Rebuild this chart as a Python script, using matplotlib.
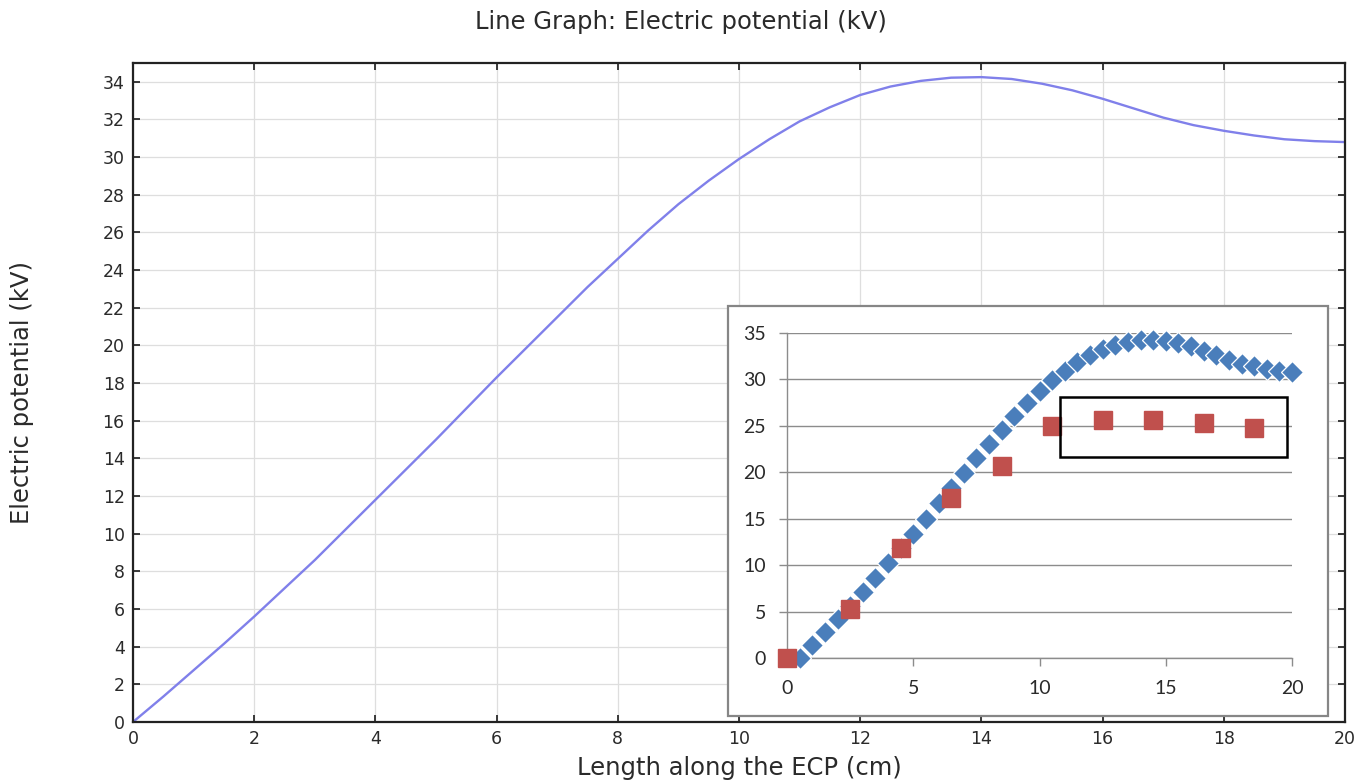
import numpy as np
import matplotlib
matplotlib.use("Agg")
import matplotlib.pyplot as plt
from matplotlib.patches import Rectangle

# main curve: electric potential along the ECP (read every 0.5 cm)
length_cm = [0.0, 0.5, 1.0, 1.5, 2.0, 2.5, 3.0, 3.5, 4.0, 4.5, 5.0, 5.5, 6.0, 6.5,
             7.0, 7.5, 8.0, 8.5, 9.0, 9.5, 10.0, 10.5, 11.0, 11.5, 12.0, 12.5,
             13.0, 13.5, 14.0, 14.5, 15.0, 15.5, 16.0, 16.5, 17.0, 17.5, 18.0,
             18.5, 19.0, 19.5, 20.0]
potential_kv = [0.0, 1.35, 2.75, 4.15, 5.6, 7.1, 8.6, 10.2, 11.8, 13.4, 15.0,
                16.65, 18.3, 19.9, 21.5, 23.1, 24.6, 26.1, 27.5, 28.75, 29.9,
                30.95, 31.9, 32.65, 33.3, 33.75, 34.05, 34.22, 34.25, 34.15,
                33.9, 33.55, 33.1, 32.6, 32.1, 31.7, 31.4, 31.15, 30.95, 30.85,
                30.8]

# inset: simulated values (diamonds) and measured values (squares)
sim_x = [0.5, 1.0, 1.5, 2.0, 2.5, 3.0, 3.5, 4.0, 4.5, 5.0, 5.5, 6.0, 6.5, 7.0,
         7.5, 8.0, 8.5, 9.0, 9.5, 10.0, 10.5, 11.0, 11.5, 12.0, 12.5, 13.0,
         13.5, 14.0, 14.5, 15.0, 15.5, 16.0, 16.5, 17.0, 17.5, 18.0, 18.5,
         19.0, 19.5, 20.0]
sim_y = [0.0, 1.35, 2.75, 4.15, 5.6, 7.1, 8.6, 10.2, 11.8, 13.4, 15.0, 16.65,
         18.3, 19.9, 21.5, 23.1, 24.6, 26.1, 27.5, 28.75, 29.9, 30.95, 31.9,
         32.65, 33.3, 33.75, 34.05, 34.22, 34.25, 34.15, 33.9, 33.55, 33.1,
         32.6, 32.1, 31.7, 31.4, 31.15, 30.95, 30.8]
meas_x = [0.0, 2.5, 4.5, 6.5, 8.5, 10.5, 12.5, 14.5, 16.5, 18.5]
meas_y = [0.0, 5.3, 11.9, 17.2, 20.7, 25.0, 25.6, 25.6, 25.3, 24.8]

txt = "#2a2a2a"
fig = plt.figure(figsize=(13.61, 7.84), dpi=100)
fig.patch.set_facecolor("white")

ax = fig.add_axes([133 / 1361, 1 - 722 / 784, (1345 - 133) / 1361, (722 - 63) / 784])
ax.plot(length_cm, potential_kv, color="#8080ea", lw=1.7)
ax.set_xlim(0, 20)
ax.set_ylim(0, 35)
ax.set_xticks(np.arange(0, 21, 2))
ax.set_yticks(np.arange(0, 35, 2))
ax.grid(True, color="#dedede", lw=0.9)
ax.tick_params(direction="in", top=True, right=True, length=5, width=1.3,
               labelsize=12.5, colors=txt, pad=6)
for s in ax.spines.values():
    s.set_linewidth(1.6)
    s.set_color("#222222")
fig.suptitle("Line Graph: Electric potential (kV)", x=0.5, y=1 - 22 / 784,
             va="center", fontsize=17.5, color=txt)
ax.set_xlabel("Length along the ECP (cm)", fontsize=17.5, color=txt)
ax.set_ylabel("Electric potential (kV)", fontsize=17.5, color=txt)
ax.xaxis.set_label_coords(0.5, -0.052)
ax.yaxis.set_label_coords(-0.082, 0.5)

# inset frame
fig.patches.append(Rectangle((728 / 1361, 1 - 716 / 784), 600 / 1361, 410 / 784,
                             transform=fig.transFigure, facecolor="white",
                             edgecolor="#868686", lw=1.6, zorder=5))

ins = fig.add_axes([787 / 1361, 1 - 658 / 784, 505 / 1361, 325 / 784], zorder=10)
ins.patch.set_alpha(0)
ins.plot(sim_x, sim_y, linestyle="none", marker="D", ms=11, color="#4a7ebb",
         mec="white", mew=0.9, clip_on=False, zorder=3)
ins.plot(meas_x, meas_y, linestyle="none", marker="s", ms=12.5, color="#c0504d",
         mec="#c0504d", clip_on=False, zorder=4)
ins.add_patch(Rectangle((10.8, 21.7), 9.0, 6.4, fill=False, edgecolor="black",
                        lw=1.8, zorder=5))
ins.set_xlim(0, 20)
ins.set_ylim(0, 35)
ins.set_xticks(np.arange(0, 21, 5))
ins.set_yticks(np.arange(0, 36, 5))
ins.grid(True, axis="y", color="#8c8c8c", lw=1.0)
ins.set_axisbelow(True)
for side in ["top", "right"]:
    ins.spines[side].set_visible(False)
for side in ["left", "bottom"]:
    ins.spines[side].set_color("#8c8c8c")
    ins.spines[side].set_linewidth(1.0)
ins.tick_params(direction="out", length=6, width=1.0, color="#8c8c8c",
                labelsize=14, labelcolor=txt)
ins.tick_params(axis="x", pad=10)
ins.tick_params(axis="y", pad=9)
for lab in ins.get_xticklabels() + ins.get_yticklabels():
    lab.set_family("Lato")

fig.savefig("out.png", dpi=100)
